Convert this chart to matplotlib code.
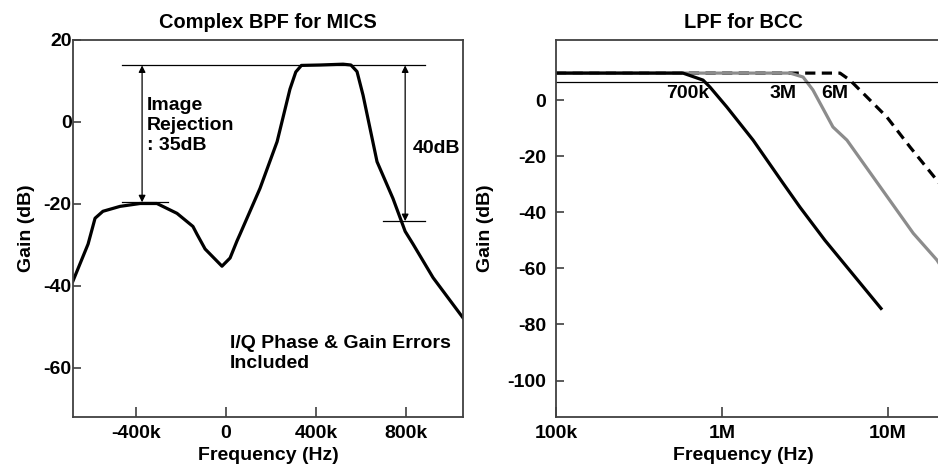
import numpy as np
import matplotlib
matplotlib.use("Agg")
import matplotlib.pyplot as plt

plt.rcParams['font.family'] = ['Liberation Sans', 'DejaVu Sans']
plt.rcParams['font.weight'] = 'bold'
plt.rcParams['font.size'] = 14
plt.rcParams['axes.unicode_minus'] = False

# complex BPF (MICS) response, freq in Hz / gain in dB
bpf_freq = [-680e3, -613e3, -582e3, -547e3, -471e3, -382e3, -307e3, -218e3,
            -147e3, -129e3, -93e3, -18e3, 18e3, 49e3, 62e3, 151e3, 227e3,
            284e3, 310e3, 335e3, 418e3, 520e3, 555e3, 582e3, 609e3, 671e3,
            742e3, 796e3, 831e3, 920e3, 1053e3]
bpf_gain = [-38.8, -29.8, -23.5, -21.8, -20.6, -19.9, -19.9, -22.3,
            -25.5, -27.4, -31.0, -35.2, -33.2, -29.0, -27.4, -16.2, -4.8,
            8.0, 12.2, 13.8, 13.9, 14.1, 13.9, 12.3, 6.5, -9.7,
            -18.7, -26.7, -29.8, -38.0, -47.8]
bpf_xticks = [-400e3, 0, 400e3, 800e3]
bpf_xlabels = ['-400k', '0', '400k', '800k']
bpf_yticks = [20, 0, -20, -40, -60]

# LPF (BCC) responses
lpf700_freq = [1e5, 582e3, 769e3, 847e3, 1.07e6, 1.54e6, 2.33e6, 2.95e6, 4.17e6, 9.08e6]
lpf700_gain = [9.6, 9.6, 7.1, 4.6, -2.5, -14.3, -29.6, -38.2, -50.0, -74.3]
lpf3m_freq = [1e5, 2.57e6, 3.08e6, 3.53e6, 4.66e6, 5.66e6, 14.2e6, 19.7e6, 21e6]
lpf3m_gain = [9.6, 9.6, 8.2, 3.6, -9.6, -14.3, -47.5, -57.0, -59.5]
lpf6m_freq = [1e5, 5.14e6, 5.9e6, 7.46e6, 9.86e6, 13.6e6, 21e6]
lpf6m_gain = [9.6, 9.6, 7.1, 1.1, -6.1, -16.8, -30.6]
lpf_xticks = [1e5, 1e6, 1e7]
lpf_xlabels = ['100k', '1M', '10M']
lpf_yticks = [0, -20, -40, -60, -80, -100]

spine_c = '#404040'

fig = plt.figure(figsize=(9.38, 4.71), dpi=100)

# ---- left: complex BPF
ax1 = fig.add_axes([73/938, 54/471, 390/938, 377/471])
ax1.plot(bpf_freq, bpf_gain, color='black', lw=2.3, solid_joinstyle='round')
ax1.set_xlim(-680e3, 1053e3)
ax1.set_ylim(-72, 20)
ax1.set_xticks(bpf_xticks)
ax1.set_xticklabels(bpf_xlabels)
ax1.set_yticks(bpf_yticks)
ax1.tick_params(axis='y', direction='in', length=6, width=1.2, color=spine_c, pad=1)
ax1.tick_params(axis='x', direction='in', length=7, width=1.2, color=spine_c, pad=6)
ax1.set_xlabel('Frequency (Hz)', fontweight='bold', labelpad=3)
ax1.set_ylabel('Gain (dB)', fontweight='bold', labelpad=6)
ax1.set_title('Complex BPF for MICS', fontweight='bold', fontsize=14.4, pad=9)

# reference lines and arrows
ax1.plot([-462e3, 884e3], [13.8, 13.8], color='black', lw=0.9)
ax1.plot([-462e3, -258e3], [-19.6, -19.6], color='black', lw=0.9)
ax1.plot([698e3, 884e3], [-24.2, -24.2], color='black', lw=0.9)
ax1.annotate('', xy=(-373e3, -19.6), xytext=(-373e3, 13.8),
             arrowprops=dict(arrowstyle='<|-|>', color='black', lw=0.9,
                             mutation_scale=10, shrinkA=0, shrinkB=0))
ax1.annotate('', xy=(796e3, -24.2), xytext=(796e3, 13.8),
             arrowprops=dict(arrowstyle='<|-|>', color='black', lw=0.9,
                             mutation_scale=10, shrinkA=0, shrinkB=0))
ax1.text(-352e3, 6.0, 'Image\nRejection\n: 35dB', ha='left', va='top',
         fontweight='bold', linespacing=1.2)
ax1.text(831e3, -6.5, '40dB', ha='left', va='center', fontweight='bold')
ax1.text(18e3, -52.0, 'I/Q Phase & Gain Errors\nIncluded', ha='left', va='top',
         fontweight='bold', linespacing=1.2)

# ---- right: LPF, axes runs past the figure edge
ax2 = fig.add_axes([556/938, 54/471, 444/938, 377/471])
ax2.set_xscale('log')
ax2.plot(lpf6m_freq, lpf6m_gain, color='black', lw=2.3, ls=(0, (3.2, 2.0)))
ax2.plot(lpf3m_freq, lpf3m_gain, color='#8c8c8c', lw=2.3)
ax2.plot(lpf700_freq, lpf700_gain, color='black', lw=2.3)
ax2.axhline(6.4, color='black', lw=0.9)
ax2.set_xlim(1e5, 10**7.675)
ax2.set_ylim(-113, 21.4)
ax2.set_xticks(lpf_xticks)
ax2.set_xticklabels(lpf_xlabels)
ax2.minorticks_off()
ax2.set_yticks(lpf_yticks)
ax2.tick_params(axis='y', direction='in', length=6, width=1.2, color=spine_c, pad=7)
ax2.tick_params(axis='x', direction='in', length=7, width=1.2, color=spine_c, pad=6)
ax2.set_xlabel('Frequency (Hz)', fontweight='bold', labelpad=3, x=(743-556)/444)
ax2.set_ylabel('Gain (dB)', fontweight='bold', labelpad=10)
ax2.set_title('LPF for BCC', fontweight='bold', fontsize=14.4, pad=9, x=(743-556)/444)
ax2.text(624e3, 2.4, '700k', ha='center', va='center', fontweight='bold')
ax2.text(2.33e6, 2.4, '3M', ha='center', va='center', fontweight='bold')
ax2.text(4.79e6, 2.4, '6M', ha='center', va='center', fontweight='bold')

for ax in (ax1, ax2):
    for s in ax.spines.values():
        s.set_color(spine_c)
        s.set_linewidth(1.3)

fig.savefig('out.png', dpi=100)
